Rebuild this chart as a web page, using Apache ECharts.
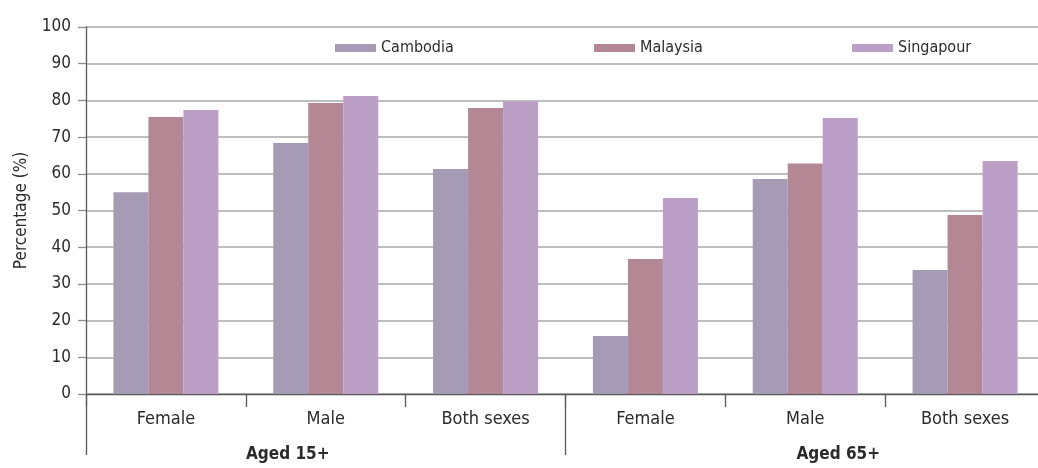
<!DOCTYPE html>
<html>
<head>
<meta charset="utf-8">
<script src="https://cdn.jsdelivr.net/npm/echarts@6/dist/echarts.min.js"></script>
<style>
  html, body { margin: 0; padding: 0; background: #fff; }
  #chart { width: 1038px; height: 468px; }
</style>
</head>
<body>
<div id="chart"></div>
<script>
// Sub-groups along the axis, and the age bands they sit under
const categories = ['Female', 'Male', 'Both sexes', 'Female', 'Male', 'Both sexes'];
const ageGroups = ['Aged 15+', 'Aged 65+'];
const yTicks = { min: 0, max: 100, step: 10 };

// Percentages per country
const cambodia  = [55.0, 68.4, 61.3, 15.8, 58.6, 33.8];
const malaysia  = [75.5, 79.3, 77.9, 36.8, 62.8, 48.8];
const singapore = [77.4, 81.2, 79.7, 53.4, 75.2, 63.5];

const FONT = '"Liberation Sans Narrow", "DejaVu Sans Condensed", "Roboto Condensed", sans-serif';
const TEXT = '#2b2b2b';
const AXIS = '#595959';

const chart = echarts.init(document.getElementById('chart'), null, { renderer: 'canvas' });

function legendAt(name, left) {
  return {
    data: [name],
    left: left,
    top: 35,
    icon: 'rect',
    itemWidth: 41,
    itemHeight: 8,
    selectedMode: false,
    textStyle: { fontFamily: FONT, fontSize: 16, color: TEXT }
  };
}

chart.setOption({
  animation: false,
  textStyle: { fontFamily: FONT },
  legend: [
    legendAt('Cambodia', 330),
    legendAt('Malaysia', 589),
    legendAt('Singapour', 847)
  ],
  // the last category runs slightly past the right edge of the page
  grid: { left: 86, width: 959, top: 27, bottom: 74, containLabel: false, outerBoundsMode: 'none' },
  xAxis: [
    {
      type: 'category',
      data: categories,
      axisLine: { show: true, lineStyle: { color: AXIS, width: 1.3 } },
      axisTick: { show: true, interval: 0, length: 13, lineStyle: { color: AXIS, width: 1.3 } },
      axisLabel: { interval: 0, margin: 16, fontSize: 18, color: TEXT, fontFamily: FONT },
      splitLine: { show: false }
    },
    {
      type: 'category',
      data: ageGroups,
      position: 'bottom',
      axisLine: { show: false },
      axisTick: { show: true, interval: 0, length: 61, lineStyle: { color: AXIS, width: 1.3 } },
      axisLabel: {
        interval: 0,
        margin: 52,
        formatter: (v, i) => i === 0 ? '{a|' + v + '}' : '{b|' + v + '}',
        rich: {
          a: { fontSize: 17, fontWeight: 'bold', color: TEXT, fontFamily: FONT, padding: [0, 76, 0, 0] },
          b: { fontSize: 17, fontWeight: 'bold', color: TEXT, fontFamily: FONT, padding: [0, 0, 0, 66] }
        }
      },
      splitLine: { show: false }
    }
  ],
  yAxis: {
    type: 'value',
    min: yTicks.min,
    max: yTicks.max,
    interval: yTicks.step,
    name: 'Percentage (%)',
    nameLocation: 'middle',
    nameGap: 56,
    nameTextStyle: { fontSize: 17, color: TEXT, fontFamily: FONT },
    axisLine: { show: true, lineStyle: { color: AXIS, width: 1.3 } },
    axisTick: { show: true, length: 8, lineStyle: { color: '#8c8c8c', width: 1.3 } },
    axisLabel: { margin: 15, fontSize: 17, color: TEXT, fontFamily: FONT },
    splitLine: { show: true, lineStyle: { color: '#a9a9a9', width: 1.5 } }
  },
  series: [
    { name: 'Cambodia',  type: 'bar', data: cambodia,  barWidth: 35, barGap: '0%', itemStyle: { color: '#a59bb4' } },
    { name: 'Malaysia',  type: 'bar', data: malaysia,  barWidth: 35, barGap: '0%', itemStyle: { color: '#b38793' } },
    { name: 'Singapour', type: 'bar', data: singapore, barWidth: 35, barGap: '0%', itemStyle: { color: '#bc9fc6' } }
  ]
});
</script>
</body>
</html>
